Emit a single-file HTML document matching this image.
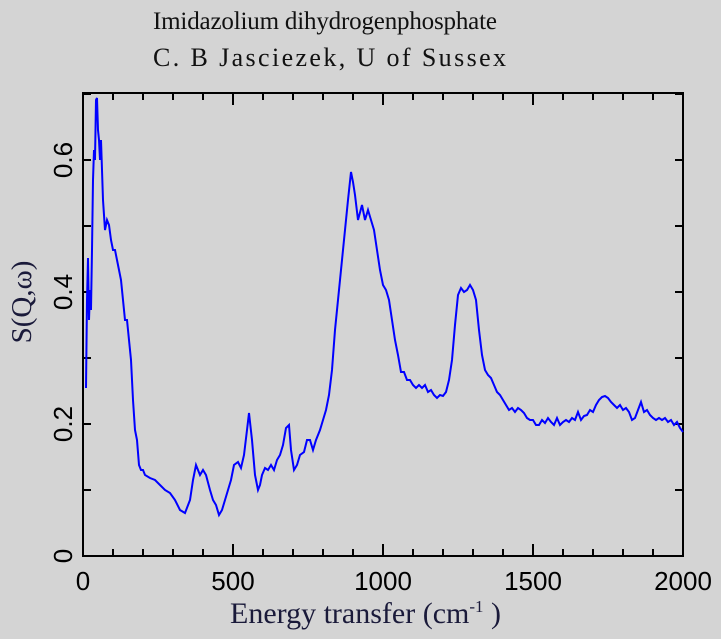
<!DOCTYPE html>
<html><head><style>body{margin:0;background:#d4d4d4}svg{display:block}</style></head><body>
<svg width="721" height="639" xmlns="http://www.w3.org/2000/svg">
<rect width="721" height="639" fill="#d4d4d4"/>
<text x="153" y="29" font-family="Liberation Serif, serif" font-size="25" fill="#111" textLength="344" lengthAdjust="spacing">Imidazolium dihydrogenphosphate</text>
<text x="153" y="66" font-family="Liberation Serif, serif" font-size="26" fill="#111" textLength="353" lengthAdjust="spacing">C. B Jasciezek, U of Sussex</text>
<rect x="83" y="93" width="600" height="463" fill="none" stroke="#000" stroke-width="2"/>
<g stroke="#000" stroke-width="2">
<path d="M113 556v-7M143 556v-7M173 556v-7M203 556v-7M263 556v-7M293 556v-7M323 556v-7M353 556v-7M413 556v-7M443 556v-7M473 556v-7M503 556v-7M563 556v-7M593 556v-7M623 556v-7M653 556v-7M233 556v-12M383 556v-12M533 556v-12"/>
<path d="M113 93v7M143 93v7M173 93v7M203 93v7M263 93v7M293 93v7M323 93v7M353 93v7M413 93v7M443 93v7M473 93v7M503 93v7M563 93v7M593 93v7M623 93v7M653 93v7M233 93v12M383 93v12M533 93v12"/>
<path d="M83 490h8M83 424h8M83 358h8M83 292h8M83 226h8M83 160h8M83 94h8"/>
<path d="M683 490h-8M683 424h-8M683 358h-8M683 292h-8M683 226h-8M683 160h-8M683 94h-8"/>
</g>
<g font-family="Liberation Sans, sans-serif" font-size="26" fill="#000" text-anchor="middle">
<text x="83" y="590">0</text><text x="233" y="590">500</text><text x="383" y="590">1000</text><text x="533" y="590">1500</text><text x="683" y="590">2000</text>
<text transform="translate(72,556) rotate(-90)">0</text>
<text transform="translate(72,424) rotate(-90)">0.2</text>
<text transform="translate(72,292) rotate(-90)">0.4</text>
<text transform="translate(72,160) rotate(-90)">0.6</text>
</g>
<text x="230" y="623" font-family="Liberation Serif, serif" font-size="30" fill="#1a1a3a">Energy transfer (cm<tspan dy="-11" font-size="17">-1</tspan><tspan dy="11"> )</tspan></text>
<text transform="translate(31,302) rotate(-90)" text-anchor="middle" font-family="Liberation Serif, serif" font-size="29" fill="#1a1a3a">S(Q,ω)</text>
<polyline fill="none" stroke="#0000ff" stroke-width="2" points="86,388 87,300 88,258 89,320 90,290 91,310 92,250 93,180 94,150 95,160 96,100 97,98 98,130 99,140 100,160 101,140 102,170 103,200 104,215 105,230 107,220 109,225 111,240 113,250 115,250 117,260 119,270 121,280 123,300 125,320 127,320 129,340 131,360 133,400 135,430 137,440 139,465 141,470 143,470 145,475 150,478 155,480 160,485 165,490 170,493 175,500 180,510 185,513 190,500 193,480 196,465 200,475 203,470 206,475 210,490 213,500 216,505 219,515 222,510 225,500 228,490 231,480 234,465 238,462 241,468 244,455 247,430 249,413 252,440 255,475 258,490 260,485 262,475 265,468 268,470 271,465 274,470 277,460 280,455 283,445 286,428 289,425 291,450 294,470 297,465 300,455 304,452 307,440 310,440 313,450 316,440 320,430 323,420 326,410 329,395 332,370 335,330 338,300 341,270 345,230 348,200 351,172 353,182 355,195 358,220 362,205 365,220 368,210 371,220 374,230 377,250 380,270 383,285 386,290 389,300 392,320 395,340 398,355 401,372 404,372 407,380 410,380 413,385 416,388 419,385 422,388 425,385 428,392 431,390 434,395 437,398 440,395 443,396 446,392 449,380 452,360 455,325 458,295 461,288 464,292 467,290 470,285 473,290 476,300 479,330 482,355 485,370 488,375 491,378 494,385 497,392 500,395 503,400 506,405 509,410 512,408 515,412 518,408 521,410 524,413 527,418 530,420 533,420 536,425 539,425 542,420 545,423 548,418 551,422 554,425 557,418 560,425 563,422 566,420 569,422 572,418 575,420 578,412 581,420 584,416 587,415 590,410 593,412 596,405 599,400 602,397 605,396 608,398 611,402 614,405 617,408 620,405 623,410 626,408 629,412 632,420 635,418 638,410 641,402 644,412 647,410 650,415 653,418 656,420 659,418 662,420 665,418 668,422 671,420 674,425 677,422 680,428 683,432"/>
</svg>
</body></html>
